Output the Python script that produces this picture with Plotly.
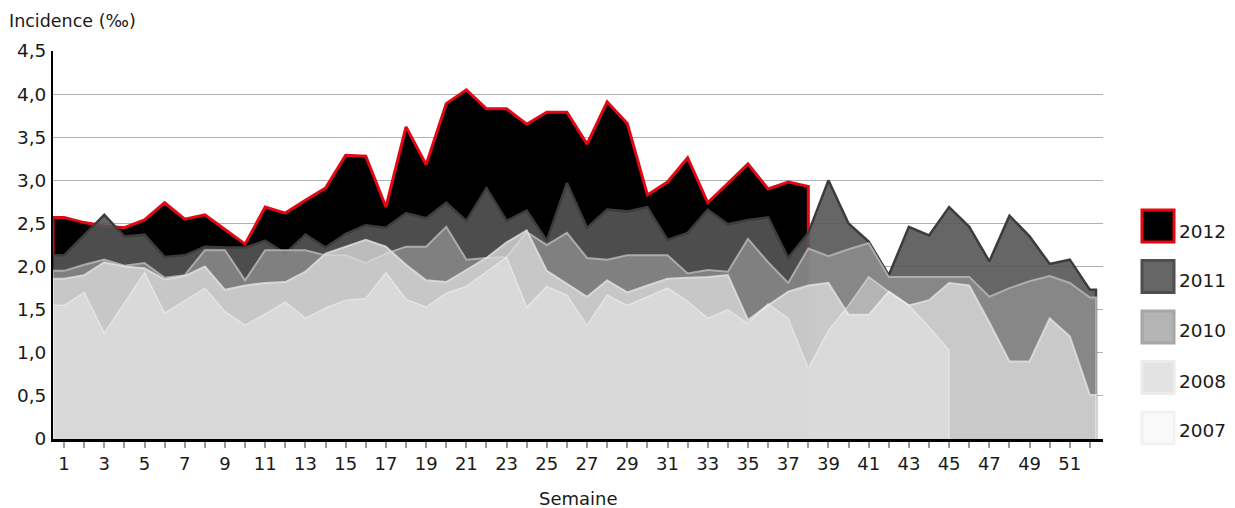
import plotly.graph_objects as go

# ---------------- data ----------------
weeks = list(range(1, 53))

inc_2012 = [2.57, 2.51, 2.47, 2.45, 2.54, 2.74, 2.55, 2.60, 2.43, 2.26,
            2.69, 2.62, 2.77, 2.91, 3.29, 3.28, 2.69, 3.62, 3.18, 3.89,
            4.05, 3.83, 3.83, 3.65, 3.79, 3.79, 3.42, 3.91, 3.66, 2.83,
            2.98, 3.26, 2.74, 2.97, 3.19, 2.90, 2.98, 2.93]

inc_2011 = [2.13, 2.37, 2.60, 2.35, 2.37, 2.11, 2.13, 2.23, 2.22, 2.22,
            2.30, 2.15, 2.37, 2.22, 2.38, 2.48, 2.45, 2.62, 2.56, 2.74,
            2.53, 2.91, 2.53, 2.65, 2.30, 2.97, 2.45, 2.66, 2.64, 2.69,
            2.31, 2.39, 2.66, 2.49, 2.54, 2.57, 2.10, 2.39, 3.00, 2.50,
            2.29, 1.90, 2.46, 2.36, 2.69, 2.46, 2.06, 2.59, 2.35, 2.03,
            2.08, 1.73]

inc_2010 = [1.95, 2.02, 2.08, 2.01, 2.04, 1.87, 1.90, 2.19, 2.19, 1.84,
            2.19, 2.19, 2.19, 2.13, 2.13, 2.04, 2.15, 2.23, 2.23, 2.46,
            2.08, 2.10, 2.11, 2.40, 2.25, 2.39, 2.10, 2.08, 2.13, 2.13,
            2.13, 1.92, 1.96, 1.94, 2.32, 2.05, 1.81, 2.21, 2.12, 2.20,
            2.27, 1.88, 1.88, 1.88, 1.88, 1.88, 1.65, 1.75, 1.83, 1.89,
            1.81, 1.64]

inc_2008 = [1.86, 1.90, 2.05, 2.00, 1.98, 1.85, 1.89, 2.00, 1.73, 1.78,
            1.81, 1.82, 1.94, 2.15, 2.23, 2.31, 2.23, 2.02, 1.84, 1.82,
            1.96, 2.10, 2.28, 2.42, 1.95, 1.80, 1.65, 1.84, 1.70, 1.78,
            1.86, 1.87, 1.88, 1.90, 1.38, 1.55, 1.71, 1.78, 1.81, 1.44,
            1.44, 1.71, 1.55, 1.61, 1.81, 1.78, 1.35, 0.90, 0.90, 1.40,
            1.19, 0.51]

inc_2007 = [1.55, 1.70, 1.23, 1.58, 1.93, 1.46, 1.60, 1.75, 1.48, 1.32,
            1.45, 1.59, 1.40, 1.52, 1.61, 1.63, 1.93, 1.62, 1.53, 1.69,
            1.77, 1.94, 2.11, 1.53, 1.77, 1.67, 1.32, 1.67, 1.55, 1.65,
            1.75, 1.60, 1.40, 1.50, 1.34, 1.57, 1.40, 0.82, 1.26, 1.55,
            1.88, 1.71, 1.55, 1.30, 1.03]

years = ["2012", "2011", "2010", "2008", "2007"]
series = [inc_2012, inc_2011, inc_2010, inc_2008, inc_2007]

y_tickvals = [0, 0.5, 1, 1.5, 2, 2.5, 3, 3.5, 4, 4.5]
y_ticktext = ["0", "0,5", "1,0", "1,5", "2,0", "2,5", "3,0", "3,5", "4,0", "4,5"]

# ---------------- styles ----------------
fills = ["rgba(0,0,0,1)", "rgba(85,85,85,0.9)", "rgba(150,150,150,0.7)",
         "rgba(219,219,219,0.78)", "rgba(243,243,243,0.42)"]
lines = ["#e30613", "rgba(60,60,60,1)", "rgba(178,178,178,0.9)",
         "rgba(226,226,226,0.8)", "rgba(246,246,246,0.5)"]
lwidths = [3, 2.5, 2, 2, 1.5]
leg_fill = ["#000000", "#666666", "#b4b4b4", "#e3e3e3", "#fafafa"]
leg_border = ["#e30613", "#4f4f4f", "#a6a6a6", "#ebebeb", "#f2f2f2"]

X0, X1 = 0.45, 52.65
END_EXT = 52.3
FONT = "DejaVu Sans, Verdana, sans-serif"
TXT = "#1a1a1a"

fig = go.Figure()
for name, vals, fc, lc, lw in zip(years, series, fills, lines, lwidths):
    n = len(vals)
    xe = END_EXT if n == len(weeks) else weeks[n - 1]
    xs = [X0, X0] + weeks[:n] + [xe, xe]
    ys = [0, vals[0]] + vals + [vals[-1], 0]
    fig.add_trace(go.Scatter(x=xs, y=ys, mode="lines", fill="tozeroy",
                             fillcolor=fc, line=dict(color=lc, width=lw),
                             name=name, showlegend=False, hoverinfo="skip"))

# page geometry (the page has an 8 px body margin)
OFF = 8
PW, PH = 1235, 508
L, R, T, B = 53, 1103, 51, 439          # plot area in page pixels
W, H = PW - OFF, PH - OFF


def px_x(p):
    return (p - L) / (R - L)


def px_y(p):
    return (B - p) / (B - T)


shapes = []
annotations = []
swatch_centers = [226, 276.5, 327, 377.5, 428]
text_centers = [231, 280, 330, 381, 430]
for yr, cy, ty, f, b in zip(years, swatch_centers, text_centers, leg_fill, leg_border):
    shapes.append(dict(type="rect", xref="paper", yref="paper",
                       x0=px_x(1142), x1=px_x(1174), y0=px_y(cy + 16), y1=px_y(cy - 16),
                       fillcolor=f, line=dict(color=b, width=3), layer="above"))
    annotations.append(dict(text=yr, xref="paper", yref="paper", x=px_x(1177), y=px_y(ty),
                            xanchor="left", yanchor="middle", showarrow=False,
                            font=dict(family=FONT, size=18.5, color=TXT)))

annotations.append(dict(text="Incidence (‰)", xref="paper", yref="paper",
                        x=px_x(7), y=px_y(21), xanchor="left", yanchor="middle",
                        showarrow=False, font=dict(family=FONT, size=17.5, color=TXT)))
annotations.append(dict(text="Semaine", xref="paper", yref="paper",
                        x=0.5, y=px_y(499), xanchor="center", yanchor="middle",
                        showarrow=False, font=dict(family=FONT, size=18, color=TXT)))

fig.update_layout(
    width=W, height=H,
    margin=dict(l=L - OFF, r=PW - R, t=T - OFF, b=PH - B, pad=0),
    paper_bgcolor="white", plot_bgcolor="white",
    showlegend=False,
    font=dict(family=FONT, size=18, color=TXT),
    shapes=shapes, annotations=annotations,
    xaxis=dict(range=[X0, X1], tickmode="array", tickvals=weeks,
               ticktext=[str(w) if w % 2 else "" for w in weeks],
               ticks="outside", ticklen=6, tickwidth=1.5, tickcolor="#9a9a9a",
               showline=True, linecolor="black", linewidth=3, automargin=False,
               showgrid=False, zeroline=False, layer="above traces",
               tickfont=dict(family=FONT, size=18, color=TXT)),
    yaxis=dict(range=[0, 4.5], tickmode="array", tickvals=y_tickvals,
               ticktext=y_ticktext, ticks="", showline=True, linecolor="black",
               linewidth=2, showgrid=True, gridcolor="#b0b0b0", gridwidth=1.3,
               zeroline=False, layer="above traces", ticklabelstandoff=1,
               automargin=False,
               tickfont=dict(family=FONT, size=18.5, color=TXT)),
)

fig.write_html("out.html")
